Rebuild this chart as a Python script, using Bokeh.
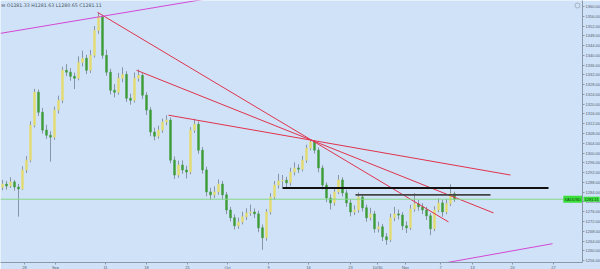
from bokeh.plotting import figure
from bokeh.models import Range1d, FixedTicker, NumeralTickFormatter, Label, ColumnDataSource, Span
from bokeh.embed import file_html
from bokeh.resources import INLINE

# ---- data (XAUUSD, 4h-ish bars) ----
first_open = 1286.0
closes = [1287.3, 1286.5, 1288.2, 1286.1, 1285.3, 1293.1, 1297.1, 1311.4, 1324.9, 1316.7,
          1309.4, 1307.3, 1306.5, 1317.6, 1321.6, 1333.9, 1333.1, 1331.4, 1330.6, 1337.1,
          1338.8, 1333.9, 1340.0, 1350.2, 1355.9, 1340.0, 1333.1, 1325.7, 1324.9, 1330.6,
          1332.2, 1322.4, 1321.6, 1330.6, 1331.8, 1323.7, 1317.6, 1308.6, 1306.9, 1309.4,
          1312.7, 1313.5, 1297.1, 1291.0, 1295.1, 1293.1, 1292.2, 1309.4, 1311.8, 1301.2,
          1293.1, 1284.1, 1282.9, 1284.1, 1287.3, 1282.9, 1276.7, 1273.5, 1270.2, 1271.8,
          1273.9, 1275.5, 1275.9, 1275.1, 1269.4, 1265.3, 1275.9, 1282.0, 1286.9, 1288.6,
          1288.9, 1287.8, 1292.2, 1293.9, 1293.4, 1297.1, 1302.0, 1304.5, 1301.2, 1293.9,
          1286.9, 1281.6, 1279.6, 1284.1, 1289.0, 1283.7, 1279.6, 1275.9, 1276.7, 1282.0,
          1277.6, 1273.5, 1275.1, 1269.0, 1269.8, 1265.7, 1264.5, 1273.5, 1275.1, 1274.6,
          1270.2, 1269.4, 1277.1, 1279.2, 1278.0, 1276.7, 1274.3, 1269.0, 1276.7, 1279.6,
          1275.9, 1279.2, 1283.3, 1281.1]
highs = [1289.0, 1288.6, 1290.1, 1289.0, 1287.4, 1294.6, 1298.8, 1313.0, 1326.3, 1326.0,
         1318.5, 1311.6, 1308.9, 1319.0, 1323.5, 1335.3, 1336.4, 1334.8, 1332.9, 1339.6,
         1341.9, 1340.2, 1342.2, 1352.0, 1357.5, 1356.6, 1342.3, 1334.5, 1328.2, 1332.8,
         1335.1, 1333.5, 1324.3, 1333.0, 1334.2, 1332.7, 1324.9, 1318.8, 1310.4, 1311.2,
         1314.1, 1315.5, 1314.6, 1298.6, 1296.9, 1297.0, 1294.8, 1310.6, 1314.0, 1313.0,
         1302.5, 1294.4, 1285.8, 1286.4, 1289.2, 1288.6, 1284.1, 1278.0, 1274.9, 1273.6,
         1276.0, 1277.4, 1278.9, 1277.3, 1276.4, 1270.8, 1277.1, 1283.6, 1288.5, 1291.5,
         1291.0, 1290.3, 1294.0, 1296.2, 1295.4, 1298.9, 1303.4, 1305.6, 1305.2, 1302.3,
         1295.0, 1288.0, 1283.1, 1285.8, 1291.0, 1290.1, 1285.0, 1281.1, 1278.6, 1283.9,
         1283.2, 1278.9, 1277.6, 1276.3, 1271.9, 1271.0, 1267.2, 1275.2, 1278.0, 1276.9,
         1275.8, 1272.0, 1278.8, 1283.6, 1280.8, 1279.5, 1278.0, 1275.4, 1278.2, 1281.5,
         1280.9, 1281.3, 1287.2, 1284.2]
lows = [1284.8, 1285.0, 1285.7, 1284.6, 1274.0, 1284.9, 1291.8, 1296.2, 1310.5, 1315.2,
        1308.0, 1305.8, 1296.5, 1305.4, 1316.2, 1320.4, 1331.5, 1329.6, 1326.2, 1329.8,
        1335.5, 1332.3, 1332.8, 1339.1, 1348.8, 1338.6, 1331.6, 1324.0, 1322.8, 1323.9,
        1329.0, 1320.9, 1319.8, 1320.7, 1329.3, 1322.1, 1315.6, 1306.9, 1305.2, 1305.9,
        1308.3, 1311.4, 1295.8, 1289.4, 1289.9, 1291.5, 1289.6, 1291.3, 1308.2, 1299.7,
        1291.6, 1282.3, 1280.9, 1281.6, 1283.0, 1280.8, 1275.0, 1272.0, 1268.7, 1269.0,
        1270.8, 1272.6, 1274.3, 1273.4, 1267.6, 1260.4, 1264.1, 1274.8, 1280.9, 1285.5,
        1286.1, 1285.9, 1286.6, 1290.9, 1291.8, 1292.5, 1296.0, 1301.1, 1299.8, 1292.1,
        1285.1, 1279.9, 1276.9, 1278.5, 1283.2, 1282.2, 1278.0, 1274.1, 1274.6, 1275.6,
        1276.1, 1271.9, 1272.4, 1267.4, 1267.5, 1264.0, 1262.4, 1263.6, 1272.1, 1272.8,
        1268.5, 1267.3, 1268.5, 1276.0, 1276.4, 1275.0, 1272.6, 1266.4, 1268.0, 1275.8,
        1274.0, 1275.0, 1278.3, 1280.0]
opens = [first_open] + closes[:-1]
bar_index = list(range(len(closes)))

# x-axis (bar index) tick positions and labels
date_tick_pos = [5.5, 13.25, 25.75, 36, 46.25, 56.25, 66.5, 76.5, 87, 93.75, 100.75, 109.5, 117.5, 127.5, 137.75]
date_tick_labels = ["28", "Sep", "11", "18", "25", "Oct", "9", "16", "23", "10/30", "Nov", "7", "13", "20", "27"]
price_ticks = list(range(1256, 1361, 4))

last_price = 1281.11
ohlc_text = "\u229f O1281.33   H1281.63   L1280.65   C1281.11"

# drawn trend lines (bar index, price)
red_x0 = [23.75, 33.5, 41.5]
red_y0 = [1357.6, 1333.9, 1315.5]
red_x1 = [111.5, 122.75, 127.0]
red_y1 = [1271.8, 1275.5, 1291.0]
mag_x0 = [-0.5, 109.5]
mag_y0 = [1349.0, 1254.7]
mag_x1 = [53.5, 137.5]
mag_y1 = [1363.8, 1262.9]
res_x0, res_x1, res_y = 70.0, 136.5, 1285.7
res2_x0, res2_x1, res2_y = 88.25, 122.0, 1282.9

BG = "#cfe2f8"
UP = "#e4dc72"
DOWN = "#3f9c3a"
WICK = "#8795a6"

up_flags = [c >= o for o, c in zip(opens, closes)]
src = ColumnDataSource(dict(
    x=bar_index, open=opens, close=closes, high=highs, low=lows,
    top=[max(o, c) for o, c in zip(opens, closes)],
    bottom=[min(o, c) for o, c in zip(opens, closes)],
    color=[UP if u else DOWN for u in up_flags],
))

p = figure(frame_width=582, frame_height=262,
           x_range=Range1d(-0.5, 145), y_range=Range1d(1255.2, 1362.45),
           y_axis_location="right", output_backend="svg", toolbar_location=None,
           min_border=0)
p.background_fill_color = BG
p.border_fill_color = BG
p.outline_line_color = None
p.grid.visible = False

# price line
p.add_layout(Span(location=last_price, dimension="width", line_color="#86d886", line_width=1))

p.segment(x0="x", y0="high", x1="x", y1="low", source=src, line_color=WICK, line_width=1)
p.vbar(x="x", top="top", bottom="bottom", width=0.45, source=src,
       fill_color="color", line_color="color", line_width=0.6)

p.segment(x0=red_x0, y0=red_y0, x1=red_x1, y1=red_y1, line_color="#e0334d", line_width=1)
p.segment(x0=mag_x0, y0=mag_y0, x1=mag_x1, y1=mag_y1, line_color="#d448d4", line_width=1)
p.segment(x0=[res_x0], y0=[res_y], x1=[res_x1], y1=[res_y], line_color="#111111", line_width=2)
p.segment(x0=[res2_x0], y0=[res2_y], x1=[res2_x1], y1=[res2_y], line_color="#444444", line_width=1.6)

# axes
ya = p.yaxis[0]
ya.ticker = FixedTicker(ticks=price_ticks)
ya.formatter = NumeralTickFormatter(format="0.00")
ya.major_label_text_font_size = "4px"
ya.major_label_text_color = "#55606c"
ya.major_tick_out = 2
ya.major_tick_in = 0
ya.minor_tick_out = 0
ya.minor_tick_in = 0
ya.major_label_standoff = 1
ya.axis_line_color = "#8a98aa"
ya.major_tick_line_color = "#8a98aa"

xa = p.xaxis[0]
xa.ticker = FixedTicker(ticks=date_tick_pos)
xa.major_label_overrides = {t: l for t, l in zip(date_tick_pos, date_tick_labels)}
xa.major_label_text_font_size = "4px"
xa.major_label_text_color = "#55606c"
xa.major_tick_out = 2
xa.major_tick_in = 0
xa.minor_tick_out = 0
xa.minor_tick_in = 0
xa.major_label_standoff = 0
xa.axis_line_color = "#8a98aa"
xa.major_tick_line_color = "#8a98aa"

# labels
p.add_layout(Label(x=0.8, y=262 - 5, x_units="screen", y_units="screen", text=ohlc_text,
                   text_font_size="4.7px", text_color="#4a5560", text_baseline="middle",
                   text_font="DejaVu Sans"))
p.add_layout(Label(x=145, y=last_price, text="XAUUSD", text_font_size="4px", text_align="right",
                   text_baseline="middle", x_offset=-0.5, text_color="#1c3d1c",
                   background_fill_color="#39e039", padding=1))
# price tag on the axis side: placed in the right side panel so it is not clipped to the frame
p.add_layout(Label(x=145, y=last_price, x_offset=1, text="1281.11", text_font_size="4px",
                   text_align="left", text_baseline="middle", text_color="#1c3d1c",
                   background_fill_color="#39e039", padding=1), "right")
p.scatter(x=[143.75], y=[1360.4], size=5, marker="circle", fill_color=None, line_color="#9aa6b4", line_width=0.8)

open("out.html", "w").write(file_html(p, INLINE))
